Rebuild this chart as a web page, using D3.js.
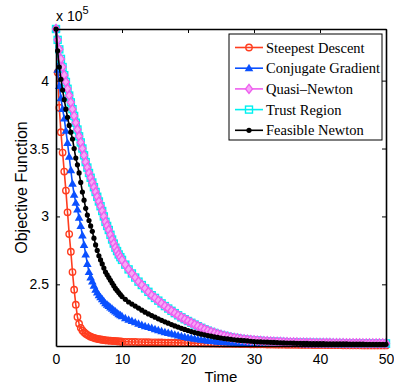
<!DOCTYPE html>
<html>
<head>
<meta charset="utf-8">
<script src="https://cdn.jsdelivr.net/npm/d3@7"></script>
<style>
  body { margin: 0; background: #fff; }
  svg { display: block; }
  .tick text { font-family: "Liberation Sans", Arial, sans-serif; font-size: 14px; }
</style>
</head>
<body>
<div id="chart"></div>
<script>
// time samples (shared by every series)
const time = [0, 0.25, 0.5, 0.75, 1, 1.25, 1.5, 1.75, 2, 2.25, 2.5, 2.75, 3, 3.25, 3.5, 3.75, 4, 4.25, 4.5, 4.75,
  5, 5.25, 5.5, 5.75, 6, 6.25, 6.5, 6.75, 7, 7.25, 7.5, 7.75, 8, 8.25, 8.5, 8.75, 9, 9.25, 9.5, 9.75, 10,
  10.5, 11, 11.5, 12, 12.5, 13, 13.5, 14, 14.5, 15, 15.5, 16, 16.5, 17, 17.5, 18, 18.5, 19, 19.5, 20,
  20.5, 21, 21.5, 22, 22.5, 23, 23.5, 24, 24.5, 25, 25.5, 26, 26.5, 27, 27.5, 28, 28.5, 29, 29.5, 30,
  30.5, 31, 31.5, 32, 32.5, 33, 33.5, 34, 34.5, 35, 35.5, 36, 36.5, 37, 37.5, 38, 38.5, 39, 39.5, 40,
  40.5, 41, 41.5, 42, 42.5, 43, 43.5, 44, 44.5, 45, 45.5, 46, 46.5, 47, 47.5, 48, 48.5, 49, 49.5, 50];

// objective values, x 10^5
const steepest = [4.38, 4.06, 3.80, 3.62, 3.47, 3.33, 3.19, 3.03, 2.87, 2.74, 2.59, 2.46, 2.35, 2.26, 2.21, 2.18, 2.16, 2.148, 2.137, 2.128,
  2.121, 2.115, 2.110, 2.106, 2.102, 2.099, 2.096, 2.094, 2.092, 2.090, 2.088, 2.087, 2.086, 2.085, 2.084, 2.083, 2.082, 2.081, 2.080, 2.079, 2.078,
  2.077, 2.077, 2.076, 2.076, 2.075, 2.075, 2.074, 2.074, 2.073, 2.073, 2.072, 2.072, 2.071, 2.071, 2.070, 2.070, 2.069, 2.069, 2.068, 2.068,
  2.067, 2.067, 2.066, 2.066, 2.065, 2.065, 2.064, 2.064, 2.063, 2.063, 2.062, 2.062, 2.062, 2.061, 2.061, 2.060, 2.060, 2.060, 2.059, 2.059,
  2.058, 2.058, 2.058, 2.057, 2.057, 2.057, 2.056, 2.056, 2.056, 2.055, 2.055, 2.055, 2.055, 2.054, 2.054, 2.054, 2.054, 2.053, 2.053, 2.053,
  2.053, 2.052, 2.052, 2.052, 2.052, 2.052, 2.051, 2.051, 2.051, 2.051, 2.051, 2.051, 2.050, 2.050, 2.050, 2.050, 2.050, 2.050, 2.050, 2.050];

const conjugate = [4.38, 4.08, 3.96, 3.87, 3.79, 3.72, 3.63, 3.54, 3.44, 3.34, 3.24, 3.16, 3.10, 3.05, 2.99, 2.93, 2.86, 2.79, 2.72, 2.65,
  2.59, 2.55, 2.52, 2.49, 2.46, 2.44, 2.42, 2.405, 2.39, 2.375, 2.36, 2.35, 2.34, 2.33, 2.32, 2.31, 2.30, 2.29, 2.28, 2.273, 2.265,
  2.25, 2.24, 2.23, 2.22, 2.21, 2.20, 2.192, 2.185, 2.178, 2.17, 2.162, 2.155, 2.148, 2.142, 2.136, 2.13, 2.124, 2.118, 2.112, 2.107,
  2.103, 2.099, 2.095, 2.091, 2.088, 2.085, 2.082, 2.080, 2.078, 2.076, 2.074, 2.073, 2.071, 2.070, 2.069, 2.068, 2.067, 2.066, 2.065, 2.065,
  2.064, 2.064, 2.063, 2.063, 2.062, 2.062, 2.062, 2.061, 2.061, 2.061, 2.060, 2.060, 2.060, 2.060, 2.059, 2.059, 2.059, 2.059, 2.059, 2.058,
  2.058, 2.058, 2.058, 2.058, 2.058, 2.057, 2.057, 2.057, 2.057, 2.057, 2.057, 2.057, 2.056, 2.056, 2.056, 2.056, 2.056, 2.056, 2.056, 2.056];

const quasiNewton = [4.38, 4.30, 4.23, 4.16, 4.10, 4.04, 3.99, 3.94, 3.89, 3.84, 3.79, 3.74, 3.69, 3.64, 3.59, 3.545, 3.50, 3.45, 3.40, 3.36,
  3.32, 3.285, 3.25, 3.215, 3.18, 3.145, 3.11, 3.075, 3.04, 3.00, 2.96, 2.93, 2.90, 2.865, 2.83, 2.80, 2.77, 2.745, 2.72, 2.70, 2.68,
  2.645, 2.61, 2.58, 2.55, 2.52, 2.495, 2.47, 2.445, 2.42, 2.40, 2.38, 2.36, 2.34, 2.322, 2.305, 2.288, 2.272, 2.257, 2.243, 2.23,
  2.217, 2.204, 2.192, 2.18, 2.169, 2.159, 2.15, 2.142, 2.134, 2.127, 2.121, 2.115, 2.11, 2.106, 2.102, 2.098, 2.095, 2.092, 2.09, 2.088,
  2.086, 2.084, 2.082, 2.081, 2.079, 2.078, 2.077, 2.076, 2.075, 2.074, 2.073, 2.073, 2.072, 2.071, 2.071, 2.070, 2.070, 2.069, 2.069, 2.069,
  2.068, 2.068, 2.068, 2.067, 2.067, 2.067, 2.067, 2.066, 2.066, 2.066, 2.066, 2.066, 2.065, 2.065, 2.065, 2.065, 2.065, 2.065, 2.065, 2.065];

const trustRegion = [4.38, 4.30, 4.23, 4.16, 4.10, 4.04, 3.99, 3.94, 3.89, 3.84, 3.79, 3.74, 3.69, 3.64, 3.59, 3.545, 3.50, 3.45, 3.40, 3.36,
  3.32, 3.285, 3.25, 3.215, 3.18, 3.145, 3.11, 3.075, 3.04, 3.00, 2.96, 2.93, 2.90, 2.865, 2.83, 2.80, 2.77, 2.745, 2.72, 2.70, 2.68,
  2.645, 2.61, 2.58, 2.55, 2.52, 2.495, 2.47, 2.445, 2.42, 2.40, 2.38, 2.36, 2.34, 2.322, 2.305, 2.288, 2.272, 2.257, 2.243, 2.23,
  2.217, 2.204, 2.192, 2.18, 2.169, 2.159, 2.15, 2.142, 2.134, 2.127, 2.121, 2.115, 2.11, 2.106, 2.102, 2.098, 2.095, 2.092, 2.09, 2.088,
  2.086, 2.084, 2.082, 2.081, 2.079, 2.078, 2.077, 2.076, 2.075, 2.074, 2.073, 2.073, 2.072, 2.071, 2.071, 2.070, 2.070, 2.069, 2.069, 2.069,
  2.068, 2.068, 2.068, 2.067, 2.067, 2.067, 2.067, 2.066, 2.066, 2.066, 2.066, 2.066, 2.065, 2.065, 2.065, 2.065, 2.065, 2.065, 2.065, 2.065];

const feasible = [4.38, 4.22, 4.10, 4.01, 3.93, 3.86, 3.79, 3.73, 3.67, 3.62, 3.57, 3.50, 3.43, 3.38, 3.32, 3.25, 3.18, 3.12, 3.06, 3.01,
  2.97, 2.93, 2.89, 2.84, 2.79, 2.75, 2.71, 2.68, 2.65, 2.62, 2.59, 2.57, 2.55, 2.53, 2.51, 2.49, 2.47, 2.455, 2.44, 2.425, 2.41,
  2.39, 2.37, 2.355, 2.34, 2.325, 2.31, 2.295, 2.282, 2.27, 2.258, 2.246, 2.235, 2.224, 2.214, 2.204, 2.194, 2.185, 2.176, 2.168, 2.16,
  2.152, 2.145, 2.139, 2.133, 2.128, 2.123, 2.118, 2.113, 2.109, 2.105, 2.101, 2.098, 2.095, 2.092, 2.089, 2.087, 2.085, 2.083, 2.081, 2.079,
  2.077, 2.076, 2.075, 2.074, 2.073, 2.072, 2.071, 2.070, 2.069, 2.068, 2.068, 2.067, 2.066, 2.066, 2.065, 2.065, 2.064, 2.064, 2.063, 2.063,
  2.063, 2.062, 2.062, 2.062, 2.061, 2.061, 2.061, 2.061, 2.060, 2.060, 2.060, 2.060, 2.060, 2.059, 2.059, 2.059, 2.059, 2.059, 2.059, 2.059];

const xTicks = [0, 10, 20, 30, 40, 50];
const yTicks = [2.5, 3, 3.5, 4];
const yDomain = [2.046, 4.38];

const series = [
  {name: "Steepest Descent", values: steepest, color: "#ff3d1f", marker: "circle"},
  {name: "Conjugate Gradient", values: conjugate, color: "#0a50ff", marker: "triangle"},
  {name: "Trust Region", values: trustRegion, color: "#00f0f0", marker: "square"},
  {name: "Quasi\u2013Newton", values: quasiNewton, color: "#ee5fee", marker: "diamond"},
  {name: "Feasible Newton", values: feasible, color: "#000000", marker: "dot"}
];
const legendOrder = ["Steepest Descent", "Conjugate Gradient", "Quasi\u2013Newton", "Trust Region", "Feasible Newton"];

const width = 394, height = 390,
  margin = {top: 29, right: 8, bottom: 44, left: 56};

const svg = d3.select("#chart").append("svg")
  .attr("width", width)
  .attr("height", height);

const x = d3.scaleLinear().domain([0, 50]).range([margin.left, width - margin.right]);
const y = d3.scaleLinear().domain(yDomain).range([height - margin.bottom, margin.top]);

// markers
function drawMarker(g, type, color, px, py) {
  if (type == "circle") {
    g.append("circle").attr("cx", px).attr("cy", py).attr("r", 3.2)
      .attr("fill", "none").attr("stroke", color).attr("stroke-width", 1.4);
  } else if (type == "triangle") {
    g.append("path").attr("d", d3.symbol(d3.symbolTriangle, 32)())
      .attr("transform", `translate(${px},${py + 0.5})`).attr("fill", color);
  } else if (type == "square") {
    g.append("rect").attr("x", px - 3.5).attr("y", py - 3.5).attr("width", 7).attr("height", 7)
      .attr("fill", "none").attr("stroke", color).attr("stroke-width", 1.4);
  } else if (type == "diamond") {
    g.append("path").attr("d", `M${px},${py - 4.5}L${px + 3.5},${py}L${px},${py + 4.5}L${px - 3.5},${py}Z`)
      .attr("fill", "#f7a8f7").attr("stroke", color).attr("stroke-width", 1.4);
  } else {
    g.append("circle").attr("cx", px).attr("cy", py).attr("r", 2.6).attr("fill", color);
  }
}

const line = d3.line().x((d, i) => x(time[i])).y(d => y(d));

series.forEach(s => {
  const g = svg.append("g");
  g.append("path").datum(s.values)
    .attr("d", line)
    .attr("fill", "none")
    .attr("stroke", s.color)
    .attr("stroke-width", 1.6);
  s.values.forEach((v, i) => drawMarker(g, s.marker, s.color, x(time[i]), y(v)));
});

// axes with inward ticks on all four sides
svg.append("g")
  .attr("transform", `translate(0,${height - margin.bottom})`)
  .call(d3.axisBottom(x).tickValues(xTicks).tickSizeInner(-4).tickSizeOuter(0).tickPadding(8));
svg.append("g")
  .attr("transform", `translate(${margin.left},0)`)
  .call(d3.axisLeft(y).tickValues(yTicks).tickSizeInner(-4).tickSizeOuter(0).tickPadding(7).tickFormat(d3.format("")));
svg.append("g")
  .attr("transform", `translate(0,${margin.top})`)
  .call(d3.axisTop(x).tickValues(xTicks).tickSizeInner(-4).tickSizeOuter(0).tickFormat(""));
svg.append("g")
  .attr("transform", `translate(${width - margin.right},0)`)
  .call(d3.axisRight(y).tickValues(yTicks).tickSizeInner(-4).tickSizeOuter(0).tickFormat(""));

svg.selectAll(".domain").attr("stroke", "#000").attr("stroke-width", 1.6);
svg.selectAll(".tick line").attr("stroke", "#000");
svg.selectAll(".tick text").attr("fill", "#000");

// exponent label
const expo = svg.append("text")
  .attr("x", 56).attr("y", 21)
  .attr("font-family", "Liberation Sans, Arial, sans-serif")
  .attr("font-size", 14);
expo.append("tspan").text("x 10");
expo.append("tspan").attr("dy", -7).attr("font-size", 11).text("5");

// axis titles
svg.append("text")
  .attr("x", (margin.left + width - margin.right) / 2)
  .attr("y", 382)
  .attr("text-anchor", "middle")
  .attr("font-family", "Liberation Sans, Arial, sans-serif")
  .attr("font-size", 15)
  .text("Time");
svg.append("text")
  .attr("transform", `translate(27,${(margin.top + height - margin.bottom) / 2}) rotate(-90)`)
  .attr("text-anchor", "middle")
  .attr("font-family", "Liberation Sans, Arial, sans-serif")
  .attr("font-size", 16)
  .text("Objective Function");

// legend
const legend = svg.append("g");
legend.append("rect")
  .attr("x", 229).attr("y", 34).attr("width", 153).attr("height", 106)
  .attr("fill", "#fff").attr("stroke", "#000").attr("stroke-width", 1);
legendOrder.forEach((name, i) => {
  const s = series.find(d => d.name == name);
  const ly = 47.5 + i * 20.7;
  legend.append("line")
    .attr("x1", 235).attr("x2", 263).attr("y1", ly).attr("y2", ly)
    .attr("stroke", s.color).attr("stroke-width", 1.6);
  drawMarker(legend, s.marker, s.color, 249, ly);
  legend.append("text")
    .attr("x", 266).attr("y", ly + 5)
    .attr("font-family", "Liberation Serif, Times New Roman, serif")
    .attr("font-size", 14.5)
    .text(name);
});
</script>
</body>
</html>
